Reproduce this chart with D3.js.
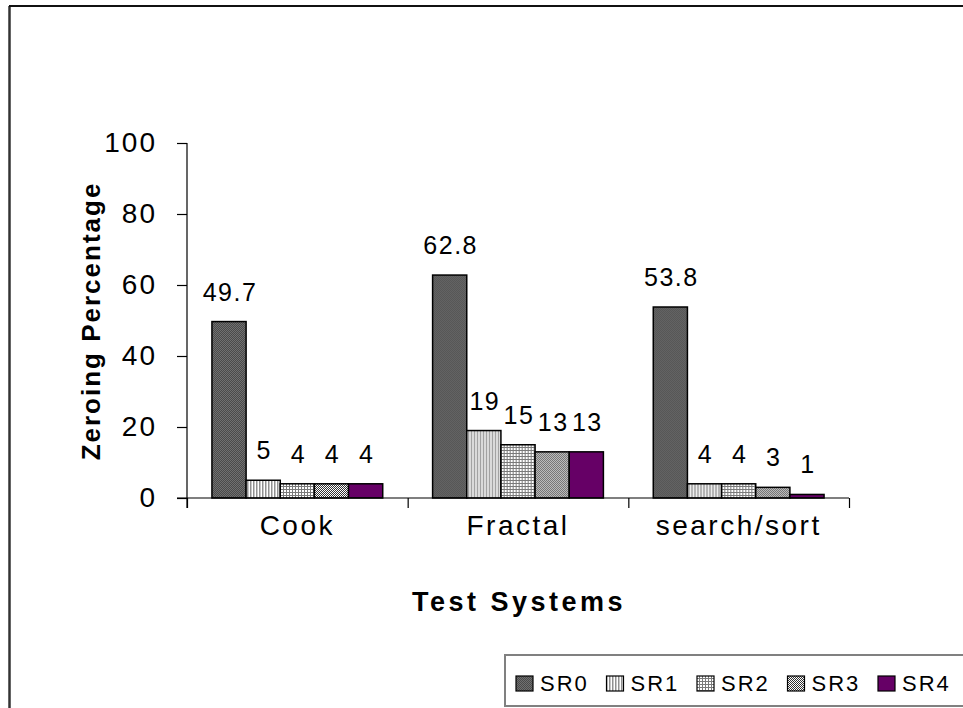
<!DOCTYPE html>
<html>
<head>
<meta charset="utf-8">
<script src="https://cdn.jsdelivr.net/npm/d3@7"></script>
<style>
  html, body { margin: 0; padding: 0; background: #fff; }
  svg { display: block; font-family: "Liberation Sans", Arial, sans-serif; }
</style>
</head>
<body>
<svg id="chart" width="963" height="708"></svg>
<script>
// Test systems on the category axis
const categories = ["Cook", "Fractal", "search/sort"];
// Zeroing percentage per sampling rate
const seriesNames = ["SR0", "SR1", "SR2", "SR3", "SR4"];
const SR0 = [49.7, 62.8, 53.8];
const SR1 = [5, 19, 4];
const SR2 = [4, 15, 4];
const SR3 = [4, 13, 3];
const SR4 = [4, 13, 1];
const seriesValues = [SR0, SR1, SR2, SR3, SR4];
const yTicks = [0, 20, 40, 60, 80, 100];

const svg = d3.select("#chart");
const defs = svg.append("defs");

// Fill patterns for the five series
function pattern(id, w, h, bg, draw) {
  const p = defs.append("pattern").attr("id", id)
    .attr("patternUnits", "userSpaceOnUse").attr("width", w).attr("height", h);
  p.append("rect").attr("width", w).attr("height", h).attr("fill", bg);
  draw(p);
}
pattern("p0", 2, 2, "#707070", p => {
  p.append("rect").attr("x", 0).attr("y", 0).attr("width", 1).attr("height", 1).attr("fill", "#4a4a4a");
  p.append("rect").attr("x", 1).attr("y", 1).attr("width", 1).attr("height", 1).attr("fill", "#4a4a4a");
});
pattern("p1", 3, 3, "#ffffff", p => {
  p.append("rect").attr("x", 0).attr("y", 0).attr("width", 1.5).attr("height", 3).attr("fill", "#909090");
});
pattern("p2", 3, 3, "#ffffff", p => {
  p.append("rect").attr("x", 0).attr("y", 0).attr("width", 1).attr("height", 3).attr("fill", "#7a7a7a");
  p.append("rect").attr("x", 0).attr("y", 0).attr("width", 3).attr("height", 1).attr("fill", "#7a7a7a");
});
pattern("p3", 2, 2, "#ffffff", p => {
  p.append("rect").attr("x", 0).attr("y", 0).attr("width", 1).attr("height", 1).attr("fill", "#333");
  p.append("rect").attr("x", 1).attr("y", 1).attr("width", 1).attr("height", 1).attr("fill", "#333");
});
const fills = ["url(#p0)", "url(#p1)", "url(#p2)", "url(#p3)", "#660066"];

// Outer frame (left and top edges)
svg.append("line").attr("x1", 9.5).attr("x2", 9.5).attr("y1", 6).attr("y2", 708)
  .attr("stroke", "#333").attr("stroke-width", 2.5);
svg.append("line").attr("x1", 9).attr("x2", 963).attr("y1", 6).attr("y2", 6)
  .attr("stroke", "#111").attr("stroke-width", 2);

// Scales
const y = d3.scaleLinear().domain([0, 100]).range([498, 143]);
const x0 = d3.scaleBand().domain(categories).range([187, 849]).padding(0);
const x1 = d3.scaleBand().domain(seriesNames).range([0, x0.bandwidth()])
  .paddingInner(0).paddingOuter(0.73);

// Bars with value labels
const groups = svg.append("g").selectAll("g").data(categories).join("g")
  .attr("transform", d => `translate(${x0(d)},0)`);

groups.each(function (cat, ci) {
  const g = d3.select(this);
  seriesNames.forEach((s, si) => {
    const v = seriesValues[si][ci];
    g.append("rect")
      .attr("x", x1(s))
      .attr("y", y(v))
      .attr("width", x1.bandwidth())
      .attr("height", y(0) - y(v))
      .attr("fill", fills[si])
      .attr("stroke", "#000")
      .attr("stroke-width", 1.5);
    g.append("text")
      .attr("x", x1(s) + x1.bandwidth() / 2 + 1)
      .attr("y", y(v) - 21)
      .attr("text-anchor", "middle")
      .attr("font-size", 25)
      .attr("letter-spacing", 1.5)
      .attr("fill", "#000")
      .text(v);
  });
});

// Y axis
const yAxis = svg.append("g").attr("transform", "translate(187,0)")
  .call(d3.axisLeft(y).tickValues(yTicks).tickSize(10).tickPadding(20).tickSizeOuter(0));
yAxis.select(".domain").attr("stroke", "#000").attr("stroke-width", 1.2)
  .attr("d", `M0,${y(100)}V508`);
yAxis.selectAll(".tick line").attr("stroke", "#000").attr("stroke-width", 1.2);
yAxis.selectAll(".tick text").attr("font-size", 28).attr("letter-spacing", 2)
  .attr("fill", "#000").attr("font-family", "Liberation Sans, Arial, sans-serif");

// X axis: category labels, with tick marks between categories
const xAxis = svg.append("g").attr("transform", "translate(0,498)")
  .call(d3.axisBottom(x0).tickSize(0).tickPadding(17));
xAxis.select(".domain").attr("stroke", "#000").attr("stroke-width", 1.2)
  .attr("d", "M177,0H849");
xAxis.selectAll(".tick text").attr("font-size", 28).attr("letter-spacing", 2.5)
  .attr("fill", "#000").attr("font-family", "Liberation Sans, Arial, sans-serif");

const bounds = d3.scaleLinear().domain([0, categories.length]).range([187, 849]);
const xTicks = svg.append("g").attr("transform", "translate(0,498)")
  .call(d3.axisBottom(bounds).tickValues(d3.range(categories.length + 1)).tickFormat("").tickSize(10));
xTicks.select(".domain").remove();
xTicks.selectAll(".tick line").attr("stroke", "#000").attr("stroke-width", 1.2);

// Axis titles
svg.append("text")
  .attr("transform", "translate(100,321) rotate(-90)")
  .attr("text-anchor", "middle")
  .attr("font-size", 26).attr("font-weight", "bold").attr("letter-spacing", 2)
  .text("Zeroing Percentage");
svg.append("text")
  .attr("x", 519).attr("y", 611)
  .attr("text-anchor", "middle")
  .attr("font-size", 27).attr("font-weight", "bold").attr("letter-spacing", 3.5)
  .text("Test Systems");

// Legend
const legend = svg.append("g");
legend.append("rect").attr("x", 505).attr("y", 655).attr("width", 480).attr("height", 51)
  .attr("fill", "#fff").attr("stroke", "#808080").attr("stroke-width", 2);
const lx = d3.scalePoint().domain(seriesNames).range([516, 878]);
seriesNames.forEach((s, i) => {
  legend.append("rect").attr("x", lx(s)).attr("y", 676).attr("width", 17).attr("height", 15)
    .attr("fill", fills[i]).attr("stroke", "#000").attr("stroke-width", 1.2);
  legend.append("text").attr("x", lx(s) + 24).attr("y", 691)
    .attr("font-size", 22).attr("letter-spacing", 2).text(s);
});
</script>
</body>
</html>
